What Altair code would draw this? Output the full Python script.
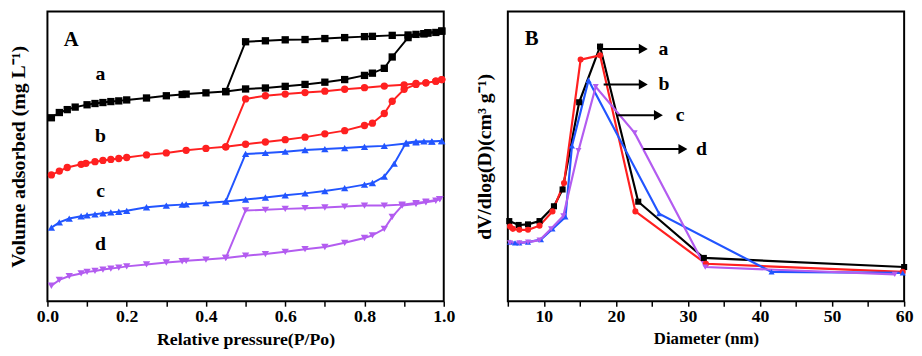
import altair as alt
import pandas as pd

# ---------------- Panel A: N2 isotherms (arbitrary vertical units) ----------------
a_ads_p = [0.01,0.03,0.05,0.07,0.10,0.12,0.14,0.16,0.18,0.20,0.25,0.30,0.34,0.35,0.40,0.45,0.50,0.55,0.60,0.65,0.70,0.75,0.80,0.82,0.85,0.87,0.91,0.95,0.96,0.98,0.995]
a_ads_v = [189.3,194.7,197.7,200.3,202.7,204.0,205.0,206.0,206.7,207.7,209.7,212.0,213.3,213.7,215.0,216.3,219.0,220.0,221.7,223.7,226.0,228.7,233.0,235.3,240.3,252.0,272.0,276.0,276.7,277.3,278.7]
a_des_p = [0.995,0.96,0.95,0.93,0.91,0.87,0.82,0.80,0.75,0.70,0.65,0.60,0.55,0.50,0.45]
a_des_v = [278.7,277.0,276.0,275.3,274.7,274.3,273.3,273.0,272.0,271.0,270.0,269.7,268.7,267.7,216.3]

b_ads_p = [0.01,0.03,0.05,0.085,0.097,0.12,0.14,0.16,0.18,0.20,0.25,0.30,0.35,0.40,0.45,0.50,0.55,0.60,0.65,0.70,0.75,0.80,0.82,0.85,0.87,0.90,0.93,0.955,0.98,0.995]
b_ads_v = [130.3,134.3,138.0,141.3,142.3,144.0,145.3,146.3,147.3,148.3,151.0,153.0,155.7,157.7,159.3,162.0,164.3,166.7,169.3,172.7,176.0,181.3,183.7,193.7,206.3,218.7,223.7,225.3,227.0,228.7]
b_des_p = [0.995,0.98,0.955,0.93,0.90,0.85,0.80,0.75,0.70,0.65,0.60,0.55,0.50,0.45]
b_des_v = [228.7,227.0,225.3,224.7,223.3,222.0,220.3,218.7,216.7,215.3,213.7,212.0,208.7,159.3]

c_ads_p = [0.01,0.03,0.055,0.085,0.10,0.12,0.14,0.16,0.18,0.20,0.25,0.30,0.34,0.35,0.40,0.45,0.50,0.55,0.60,0.65,0.70,0.75,0.80,0.82,0.85,0.875,0.905,0.93,0.95,0.97,0.995]
c_ads_v = [76.0,81.3,85.3,87.7,88.7,89.7,90.7,91.7,92.3,93.3,97.0,98.7,99.7,100.0,101.3,103.0,105.0,107.0,109.3,111.3,113.7,116.7,120.3,122.0,128.7,142.0,163.7,164.7,165.0,165.0,165.3]
c_des_p = [0.995,0.97,0.93,0.905,0.85,0.80,0.75,0.70,0.65,0.60,0.55,0.50,0.45]
c_des_v = [165.3,164.7,164.0,162.7,160.3,159.3,158.0,157.0,156.0,154.3,153.0,152.0,103.0]

d_ads_p = [0.01,0.03,0.055,0.085,0.10,0.12,0.14,0.16,0.18,0.20,0.25,0.30,0.34,0.35,0.40,0.45,0.50,0.55,0.60,0.65,0.70,0.75,0.80,0.82,0.85,0.87,0.895,0.93,0.955,0.98,0.99]
d_ads_v = [16.0,22.0,26.0,28.7,30.3,31.3,32.7,33.7,34.7,36.0,38.0,40.0,41.3,41.7,43.0,44.7,47.0,48.7,51.0,53.7,56.0,60.3,65.3,68.0,74.7,87.0,98.7,100.3,102.0,103.7,105.3]
d_des_p = [0.99,0.955,0.93,0.895,0.85,0.80,0.75,0.70,0.65,0.60,0.55,0.50,0.45]
d_des_v = [105.3,102.7,101.3,99.7,98.7,98.7,97.7,96.7,96.0,95.3,94.3,93.7,44.7]

# ---------------- Panel B: pore size distributions ----------------
pa_d = [5.2,6.5,7.8,9.4,11.4,12.6,14.9,17.8,23.1,32.2,60.0]
pa_v = [82.7,78.7,79.3,82.7,98.0,115.3,205.3,262.7,102.7,44.7,35.3]
pb_d = [5.3,5.7,6.6,7.8,9.4,11.2,12.8,15.1,17.8,22.7,32.5,59.8]
pb_v = [77.0,74.7,73.7,73.7,78.0,92.7,122.0,249.3,253.7,92.7,38.7,30.3]
pc_d = [5.3,6.0,6.6,7.8,9.6,11.2,13.0,13.9,16.2,26.0,41.6,59.8]
pc_v = [61.0,60.3,60.3,61.0,63.7,74.7,87.0,160.3,228.0,90.3,30.3,29.3]
pd_d = [5.3,6.6,7.8,9.4,11.0,12.7,14.8,17.2,22.6,32.4,58.7]
pd_v = [60.3,60.3,61.0,63.0,74.7,88.0,155.3,221.3,173.7,35.3,27.7]

series_names = ["a", "b", "c", "d"]
series_colors = ["#000000", "#ff2020", "#2255ff", "#b35cf0"]
series_shapes = ["square", "circle", "triangle-up", "triangle-down"]

# tick values
tickA = [0.0, 0.1, 0.2, 0.3, 0.4, 0.5, 0.6, 0.7, 0.8, 0.9, 1.0]
tickB = [5, 10, 15, 20, 25, 30, 35, 40, 45, 50, 55, 60]

# annotations
labA_text = ["a", "b", "c", "d"]
labA_x = [0.134, 0.134, 0.134, 0.134]
labA_y = [234, 170, 114, 59]

arrow_x1 = [17.9, 18.3, 20.3, 23.8]
arrow_x2 = [23.8, 23.8, 25.9, 29.3]
arrow_y = [260.3, 223.7, 192.0, 157.0]
arrow_tx = [25.9, 25.9, 28.3, 31.1]

FONT = "Liberation Serif"

rows = []
for name, ap, av, dp, dv in [("a", a_ads_p, a_ads_v, a_des_p, a_des_v),
                             ("b", b_ads_p, b_ads_v, b_des_p, b_des_v),
                             ("c", c_ads_p, c_ads_v, c_des_p, c_des_v),
                             ("d", d_ads_p, d_ads_v, d_des_p, d_des_v)]:
    k = 0
    for p, v in zip(ap, av):
        rows.append(dict(series=name, p=p, v=v, order=k)); k += 1
    for p, v in zip(dp, dv):
        rows.append(dict(series=name, p=p, v=v, order=k)); k += 1
dfA = pd.DataFrame(rows)

rowsB = []
for name, dd, vv in [("a", pa_d, pa_v), ("b", pb_d, pb_v), ("c", pc_d, pc_v), ("d", pd_d, pd_v)]:
    for i, (d, v) in enumerate(zip(dd, vv)):
        rowsB.append(dict(series=name, d=d, v=v, order=i))
dfB = pd.DataFrame(rowsB)

color = alt.Color("series:N", scale=alt.Scale(domain=series_names, range=series_colors), legend=None)
shape = alt.Shape("series:N", scale=alt.Scale(domain=series_names, range=series_shapes), legend=None)

W, H = 402, 294

axisXA = alt.Axis(title="Relative pressure(P/Po)", values=tickA,
                  labelExpr="round(datum.value*10) % 2 == 0 ? format(datum.value, '.1f') : ''",
                  grid=False, domain=False, labelFlush=False, labelOverlap=False, titleFontSize=18)
axisYA = alt.Axis(title="Volume adsorbed (mg L⁻¹)", labels=False, ticks=False,
                  grid=False, domain=False, titlePadding=19, titleFontSize=20)
axisXB = alt.Axis(title="Diameter (nm)", values=tickB,
                  labelExpr="datum.value % 10 == 0 ? datum.label : ''",
                  grid=False, domain=False, labelFlush=False, labelOverlap=False, titleFontSize=17)
axisYB = alt.Axis(title="dV/dlog(D)(cm³ g⁻¹)", labels=False, ticks=False,
                  grid=False, domain=False, titlePadding=14, titleFontSize=20)

def xa(f):
    return alt.X(f, scale=alt.Scale(domain=[0, 1], nice=False), axis=axisXA)

def ya(f):
    return alt.Y(f, scale=alt.Scale(domain=[0, 299], nice=False), axis=axisYA)

def xb(f):
    return alt.X(f, scale=alt.Scale(domain=[5, 60], nice=False), axis=axisXB)

def yb(f):
    return alt.Y(f, scale=alt.Scale(domain=[0, 299], nice=False), axis=axisYB)

linesA = alt.Chart(dfA).mark_line(strokeWidth=2).encode(
    x=xa("p:Q"), y=ya("v:Q"), color=color, order="order:Q", detail="series:N")
ptsA = alt.Chart(dfA).mark_point(filled=True, size=55, opacity=1).encode(
    x=xa("p:Q"), y=ya("v:Q"), color=color, shape=shape)

dfLabA = pd.DataFrame(dict(t=labA_text, x=labA_x, y=labA_y))
textA = alt.Chart(dfLabA).mark_text(font=FONT, fontWeight="bold", fontSize=20, color="black").encode(
    x=xa("x:Q"), y=ya("y:Q"), text="t:N")
titleA = alt.Chart(pd.DataFrame(dict(t=["A"], x=[0.06], y=[269]))).mark_text(
    font=FONT, fontWeight="bold", fontSize=21, color="black").encode(x=xa("x:Q"), y=ya("y:Q"), text="t:N")

panelA = alt.layer(linesA, ptsA, textA, titleA).properties(width=W, height=H)

linesB = alt.Chart(dfB).mark_line(strokeWidth=2.2).encode(
    x=xb("d:Q"), y=yb("v:Q"), color=color, order="order:Q", detail="series:N")
ptsB = alt.Chart(dfB).mark_point(filled=True, size=38, opacity=1).encode(
    x=xb("d:Q"), y=yb("v:Q"), color=color, shape=shape)

dfArr = pd.DataFrame(dict(x1=arrow_x1, x2=arrow_x2, y=arrow_y, tx=arrow_tx, t=series_names))
arrLine = alt.Chart(dfArr).mark_rule(color="black", strokeWidth=2).encode(
    x=xb("x1:Q"), x2="x2:Q", y=yb("y:Q"))
arrHead = alt.Chart(dfArr).mark_point(shape="triangle-right", filled=True, color="black", size=110, opacity=1).encode(
    x=xb("x2:Q"), y=yb("y:Q"))
arrText = alt.Chart(dfArr).mark_text(font=FONT, fontWeight="bold", fontSize=20, color="black", align="left").encode(
    x=xb("tx:Q"), y=yb("y:Q"), text="t:N")
titleB = alt.Chart(pd.DataFrame(dict(t=["B"], x=[8.3], y=[270]))).mark_text(
    font=FONT, fontWeight="bold", fontSize=21, color="black").encode(x=xb("x:Q"), y=yb("y:Q"), text="t:N")

panelB = alt.layer(linesB, ptsB, arrLine, arrHead, arrText, titleB).properties(width=W, height=H)

chart = alt.hconcat(panelA, panelB, spacing=17).properties(padding=0).configure_view(
    stroke="black", strokeWidth=2
).configure_axis(
    labelFont=FONT, labelFontWeight="bold", labelFontSize=18, labelColor="black",
    titleFont=FONT, titleFontWeight="bold", titleColor="black",
    tickColor="black", tickWidth=1.5, tickSize=5, labelPadding=2, titlePadding=5,
    labelOverlap=False
)

chart.save("out.html", embed_options={"renderer": "svg", "actions": False})
